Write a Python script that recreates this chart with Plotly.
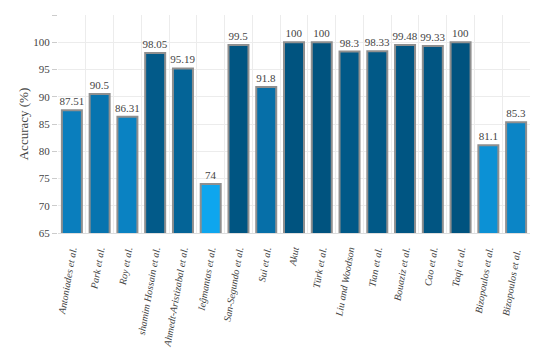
import plotly.graph_objects as go

studies = ["Antoniades et al.", "Park et al.", "Roy et al.", "shamim Hossain et al.",
           "Ahmedt-Aristizabal et al.", "Ieĝmantas et al.", "San-Segundo et al.", "Sui et al.",
           "Akut", "Türk et al.", "Liu and Woodson", "Tian et al.", "Bouaziz et al.",
           "Cao et al.", "Taqi et al.", "Bizopoulos et al.", "Bizopoulos et al. "]
accuracy = [87.51, 90.5, 86.31, 98.05, 95.19, 74, 99.5, 91.8,
            100, 100, 98.3, 98.33, 99.48, 99.33, 100, 81.1, 85.3]
labels = ["87.51", "90.5", "86.31", "98.05", "95.19", "74", "99.5", "91.8",
          "100", "100", "98.3", "98.33", "99.48", "99.33", "100", "81.1", "85.3"]
y_ticks = [65, 70, 75, 80, 85, 90, 95, 100, 105]
y_ticktext = ["65", "70", "75", "80", "85", "90", "95", "100", ""]

SERIF = "Liberation Serif, DejaVu Serif, serif"

fig = go.Figure(go.Bar(
    x=studies, y=accuracy, text=labels, textposition="outside",
    cliponaxis=False, width=0.72, constraintext="none",
    marker=dict(color=accuracy, cmin=74, cmax=100,
                colorscale=[[0, "#0ea6ee"], [0.5, "#0a80c0"], [1, "#00537f"]],
                line=dict(color="#8f8f8f", width=2)),
    textfont=dict(family=SERIF, size=11, color="#444444"),
))
# page body has an 8px default margin; size compensates for it
fig.update_layout(
    width=542, height=343, margin=dict(l=50, r=20, t=7, b=118),
    paper_bgcolor="white", plot_bgcolor="white", showlegend=False,
    font=dict(family=SERIF, color="#444444"),
)
fig.update_yaxes(range=[65, 105], tickvals=y_ticks, ticktext=y_ticktext,
                 showgrid=True, gridcolor="#ececec", gridwidth=1, automargin=False,
                 ticks="outside", ticklen=5, tickcolor="#cccccc",
                 tickfont=dict(family=SERIF, size=11, color="#444444"),
                 title=dict(text="Accuracy (%)", font=dict(family=SERIF, size=13, color="#444444"), standoff=1),
                 zeroline=False, showline=False)
fig.update_xaxes(tickson="boundaries", showgrid=True, gridcolor="#ececec", gridwidth=1,
                 tickangle=-80, ticks="", showline=True, linecolor="#dddddd",
                 automargin=False, ticklabelstandoff=6,
                 tickfont=dict(family=SERIF, size=10, color="#444444", style="italic"))
fig.write_html("out.html")
